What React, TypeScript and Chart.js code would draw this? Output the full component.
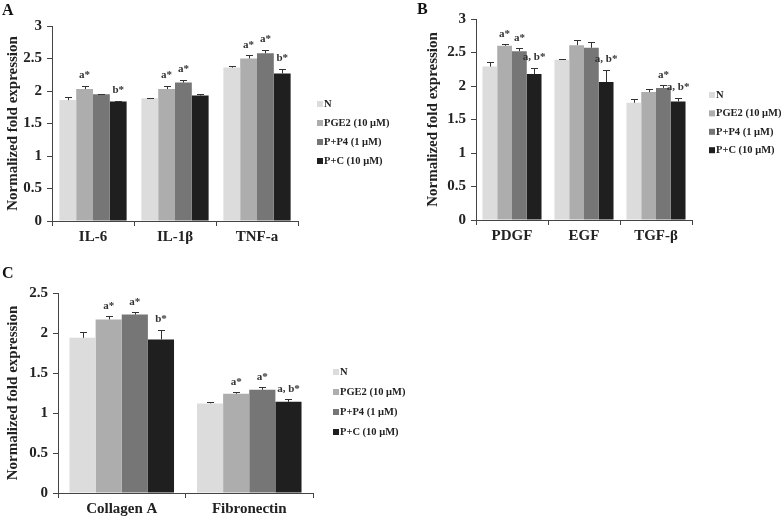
import React, { useEffect, useRef } from 'react';
import { Chart, registerables } from 'chart.js';

Chart.register(...registerables);

// ---------- shared ----------
const seriesNames = ['N', 'PGE2 (10 μM)', 'P+P4 (1 μM)', 'P+C (10 μM)'];
const seriesColors = ['#dcdcdc', '#adadad', '#767676', '#1f1f1f'];
const yTitle = 'Normalized fold expression';
const yTickLabels = ['0', '0.5', '1', '1.5', '2', '2.5', '3'];

// ---------- panel A ----------
const catsA = ['IL-6', 'IL-1β', 'TNF-a'];
const aN = [1.86, 1.89, 2.36];
const aPGE2 = [2.03, 2.03, 2.5];
const aPP4 = [1.95, 2.13, 2.58];
const aPC = [1.84, 1.93, 2.27];
const aErrN = [0.05, 0.01, 0.02];
const aErrPGE2 = [0.05, 0.05, 0.05];
const aErrPP4 = [0.01, 0.04, 0.05];
const aErrPC = [0.01, 0.03, 0.07];
const aSigN = ['', '', ''];
const aSigPGE2 = ['a*', 'a*', 'a*'];
const aSigPP4 = ['', 'a*', 'a*'];
const aSigPC = ['b*', '', 'b*'];

// ---------- panel B ----------
const catsB = ['PDGF', 'EGF', 'TGF-β'];
const bN = [2.29, 2.39, 1.75];
const bPGE2 = [2.6, 2.61, 1.91];
const bPP4 = [2.52, 2.57, 1.97];
const bPC = [2.18, 2.06, 1.77];
const bErrN = [0.07, 0.01, 0.06];
const bErrPGE2 = [0.02, 0.08, 0.04];
const bErrPP4 = [0.04, 0.08, 0.04];
const bErrPC = [0.09, 0.18, 0.05];
const bSigN = ['', '', ''];
const bSigPGE2 = ['a*', '', ''];
const bSigPP4 = ['a*', '', 'a*'];
const bSigPC = ['a, b*', 'a, b*', 'a, b*'];

// ---------- panel C ----------
const catsC = ['Collagen A', 'Fibronectin'];
const cN = [1.94, 1.12];
const cPGE2 = [2.17, 1.24];
const cPP4 = [2.23, 1.29];
const cPC = [1.92, 1.14];
const cErrN = [0.07, 0.02];
const cErrPGE2 = [0.04, 0.02];
const cErrPP4 = [0.03, 0.03];
const cErrPC = [0.12, 0.03];
const cSigN = ['', ''];
const cSigPGE2 = ['a*', 'a*'];
const cSigPP4 = ['a*', 'a*'];
const cSigPC = ['b*', 'a, b*'];

const FONT = "'Liberation Serif', 'Times New Roman', serif";
const INK = '#222222';
const AXIS = '#444444';

const overlayPlugin = {
  id: 'overlay',
  afterDatasetsDraw(chart: any, _args: any, opts: any) {
    const ctx = chart.ctx;
    const y = chart.scales.y;
    chart.data.datasets.forEach((ds: any, i: number) => {
      const meta = chart.getDatasetMeta(i);
      meta.data.forEach((bar: any, j: number) => {
        const v = ds.data[j];
        const e = opts.errors[i][j];
        const x = bar.x;
        const yb = y.getPixelForValue(v);
        const yt = y.getPixelForValue(v + e);
        ctx.save();
        ctx.strokeStyle = '#333';
        ctx.lineWidth = 1;
        ctx.beginPath();
        ctx.moveTo(Math.round(x) + 0.5, yb);
        ctx.lineTo(Math.round(x) + 0.5, Math.round(yt) + 0.5);
        ctx.moveTo(Math.round(x) - 3, Math.round(yt) + 0.5);
        ctx.lineTo(Math.round(x) + 4, Math.round(yt) + 0.5);
        ctx.stroke();
        const s = opts.sig[i][j];
        if (s) {
          ctx.fillStyle = '#333';
          ctx.font = `bold 11px ${FONT}`;
          ctx.textAlign = 'center';
          ctx.textBaseline = 'bottom';
          ctx.fillText(s, x, yt - 5);
        }
        ctx.restore();
      });
    });
  },
  afterDraw(chart: any, _args: any, opts: any) {
    const ctx = chart.ctx;
    const ca = chart.chartArea;
    ctx.save();
    const lx = ca.right + opts.legend.dx;
    seriesNames.forEach((name, i) => {
      const ly = opts.legend.y + i * opts.legend.gap;
      ctx.fillStyle = seriesColors[i];
      ctx.fillRect(lx, ly - 3, 6, 6);
      ctx.fillStyle = INK;
      ctx.font = `bold 10.5px ${FONT}`;
      ctx.textAlign = 'left';
      ctx.textBaseline = 'middle';
      ctx.fillText(name, lx + 7, ly);
    });
    ctx.fillStyle = '#111';
    ctx.font = `bold 16px ${FONT}`;
    ctx.textAlign = 'left';
    ctx.textBaseline = 'top';
    ctx.fillText(opts.letter.text, opts.letter.x, opts.letter.y);
    ctx.restore();
  },
};

type Spec = {
  cats: string[];
  series: number[][];
  errors: number[][];
  sig: string[][];
  yMax: number;
  pad: { left: number; top: number; right: number };
  yWidth: number;
  xHeight: number;
  legend: { dx: number; y: number; gap: number };
  letter: { text: string; x: number; y: number };
};

function makeConfig(s: Spec): any {
  return {
    type: 'bar',
    data: {
      labels: s.cats,
      datasets: s.series.map((d, i) => ({
        label: seriesNames[i],
        data: d,
        backgroundColor: seriesColors[i],
        borderWidth: 0,
        barPercentage: 1,
        categoryPercentage: 0.82,
      })),
    },
    options: {
      responsive: false,
      maintainAspectRatio: false,
      animation: false,
      devicePixelRatio: 1,
      layout: { padding: { left: s.pad.left, top: s.pad.top, right: s.pad.right, bottom: 0 } },
      plugins: {
        legend: { display: false },
        tooltip: { enabled: false },
        overlay: { errors: s.errors, sig: s.sig, legend: s.legend, letter: s.letter },
      },
      scales: {
        x: {
          grid: { display: true, drawOnChartArea: false, drawTicks: true, tickLength: 5, color: AXIS, offset: true },
          border: { display: true, color: AXIS, width: 1 },
          ticks: { color: INK, font: { family: FONT, size: 15, weight: 'bold' }, padding: 2, maxRotation: 0 },
          afterFit: (sc: any) => { sc.height = s.xHeight; },
        },
        y: {
          min: 0,
          max: s.yMax,
          grid: { display: true, drawOnChartArea: false, drawTicks: true, tickLength: 5, color: AXIS },
          border: { display: true, color: AXIS, width: 1 },
          ticks: {
            stepSize: 0.5,
            color: INK,
            font: { family: FONT, size: 15, weight: 'bold' },
            padding: 5,
            callback: (_v: any, idx: number) => yTickLabels[idx],
          },
          title: { display: true, text: yTitle, color: INK, font: { family: FONT, size: 15, weight: 'bold' } },
          afterFit: (sc: any) => { sc.width = s.yWidth; },
        },
      },
    },
    plugins: [overlayPlugin],
  };
}

function Panel(props: { left: number; top: number; width: number; height: number; spec: Spec }) {
  const ref = useRef<HTMLCanvasElement | null>(null);
  useEffect(() => {
    const chart = new Chart(ref.current as HTMLCanvasElement, makeConfig(props.spec));
    return () => chart.destroy();
  }, []);
  return (
    <canvas
      ref={ref}
      width={props.width}
      height={props.height}
      style={{ position: 'absolute', left: props.left, top: props.top, width: props.width, height: props.height }}
    />
  );
}

const specA: Spec = {
  cats: catsA,
  series: [aN, aPGE2, aPP4, aPC],
  errors: [aErrN, aErrPGE2, aErrPP4, aErrPC],
  sig: [aSigN, aSigPGE2, aSigPP4, aSigPC],
  yMax: 3,
  pad: { left: 0, top: 26, right: 92 },
  yWidth: 52,
  xHeight: 29,
  legend: { dx: 19, y: 104, gap: 19 },
  letter: { text: 'A', x: 2, y: 3 },
};

const specB: Spec = {
  cats: catsB,
  series: [bN, bPGE2, bPP4, bPC],
  errors: [bErrN, bErrPGE2, bErrPP4, bErrPC],
  sig: [bSigN, bSigPGE2, bSigPP4, bSigPC],
  yMax: 3,
  pad: { left: 30, top: 19, right: 90 },
  yWidth: 56,
  xHeight: 30,
  legend: { dx: 17, y: 95, gap: 18.4 },
  letter: { text: 'B', x: 27, y: 2 },
};

const specC: Spec = {
  cats: catsC,
  series: [cN, cPGE2, cPP4, cPC],
  errors: [cErrN, cErrPGE2, cErrPP4, cErrPC],
  sig: [cSigN, cSigPGE2, cSigPP4, cSigPC],
  yMax: 2.5,
  pad: { left: 0, top: 33, right: 107 },
  yWidth: 58,
  xHeight: 23,
  legend: { dx: 20, y: 112, gap: 20 },
  letter: { text: 'C', x: 2, y: 6 },
};

export default function App() {
  return (
    <div style={{ position: 'absolute', left: 0, top: 0, width: 782, height: 516, background: '#fff', overflow: 'hidden' }}>
      <Panel left={0} top={0} width={390} height={250} spec={specA} />
      <Panel left={390} top={0} width={392} height={250} spec={specB} />
      <Panel left={0} top={260} width={420} height={256} spec={specC} />
    </div>
  );
}
